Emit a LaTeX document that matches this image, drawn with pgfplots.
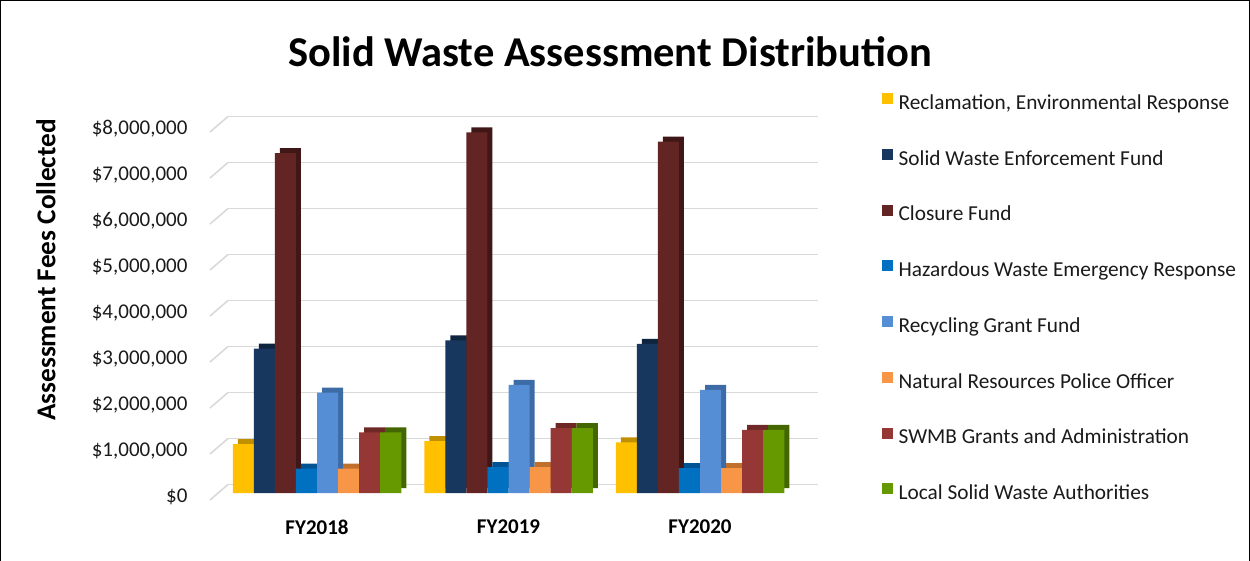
\documentclass[border=0pt]{standalone}
\usepackage{pgfplots}
\pgfplotsset{compat=1.18}
\usepackage{fontspec}
\setmainfont{Carlito}
\definecolor{cYel}{HTML}{FFC000}
\definecolor{cNavy}{HTML}{17375E}
\definecolor{cClos}{HTML}{632523}
\definecolor{cHaz}{HTML}{0070C0}
\definecolor{cRec}{HTML}{558ED5}
\definecolor{cOra}{HTML}{F79646}
\definecolor{cSwmb}{HTML}{953735}
\definecolor{cGrn}{HTML}{669900}
\definecolor{dYel}{HTML}{C09000}
\definecolor{dNavy}{HTML}{0F243E}
\definecolor{dClos}{HTML}{3F1716}
\definecolor{dHaz}{HTML}{005494}
\definecolor{dRec}{HTML}{3C6BA5}
\definecolor{dOra}{HTML}{C0702C}
\definecolor{dSwmb}{HTML}{6E2826}
\definecolor{dGrn}{HTML}{436600}
\definecolor{cGrid}{HTML}{D9D9D9}
\definecolor{cTxt}{HTML}{1A1A1A}
\pgfplotstableread{
x  a       b       c       d      e       f      g       h
0  1060000 3140000 7390000 530000 2180000 530000 1320000 1320000
1  1130000 3320000 7840000 560000 2350000 560000 1410000 1410000
2  1100000 3240000 7640000 540000 2240000 540000 1370000 1370000
}\data
\begin{document}
\begin{tikzpicture}
\useasboundingbox (0,0) rectangle (1250pt,560pt);
\draw[black, line width=1pt] (0.5pt,-2pt) rectangle (1249.5pt,559.5pt);
\node[font=\fontsize{42.5}{45}\selectfont\bfseries, text=black] at (610pt,508pt) {Solid Waste Assessment Distribution};
\node[font=\fontsize{27.3}{29}\selectfont\bfseries, text=black, rotate=90] at (46pt,290pt) {Assessment Fees Collected};
\begin{axis}[
  at={(228pt,63pt)}, anchor=south west,
  scale only axis, width=590pt, height=368pt,
  xmin=-0.4648, xmax=2.616, ymin=0, ymax=8000000,
  clip=false,
  ybar, bar width=0.11,
  axis line style={draw=none},
  major tick length=0pt,
  scaled y ticks=false,
  ymajorgrids, grid style={cGrid, line width=1.6pt, yshift=12.5pt},
  ytick={0,1000000,2000000,3000000,4000000,5000000,6000000,7000000,8000000},
  yticklabels={\$0,{\$1,000,000},{\$2,000,000},{\$3,000,000},{\$4,000,000},{\$5,000,000},{\$6,000,000},{\$7,000,000},{\$8,000,000}},
  yticklabel style={font=\fontsize{21}{24}\selectfont, text=cTxt, xshift=-37pt},
  xtick={0,1,2},
  xticklabels={FY2018,FY2019,FY2020},
  xticklabel style={font=\fontsize{21}{24}\selectfont\bfseries, text=black, yshift=-19pt},
  legend style={at={(1.1075,1.099)}, anchor=north west, draw=none, fill=none,
    font=\fontsize{21.3}{24}\selectfont, text=cTxt, row sep=35.4pt, inner sep=0pt},
  legend cell align=left,
  legend image code/.code={\fill[#1,draw=none] (0pt,-5.5pt) rectangle (11pt,5.5pt); \path (15pt,0pt);},
  shadow/.style={draw=none, forget plot, xshift=5pt, yshift=9pt},
  front/.style={draw=none, yshift=4pt},
]
% wall-edge stubs of the gridlines
\pgfplotsinvokeforeach{0,1,2,3,4,5,6,7,8}{
  \draw[cGrid, line width=1.6pt] ([xshift=-18pt,yshift=-3pt]axis cs:-0.4648,#1e6) -- ([yshift=12.5pt]axis cs:-0.4648,#1e6);
}
% depth (side and top faces)
\addplot[shadow, fill=dYel,  bar shift=-0.385] table[x=x,y=a] {\data};
\addplot[shadow, fill=dNavy, bar shift=-0.275] table[x=x,y=b] {\data};
\addplot[shadow, fill=dClos, bar shift=-0.165] table[x=x,y=c] {\data};
\addplot[shadow, fill=dHaz,  bar shift=-0.055] table[x=x,y=d] {\data};
\addplot[shadow, fill=dRec,  bar shift=0.055]  table[x=x,y=e] {\data};
\addplot[shadow, fill=dOra,  bar shift=0.165]  table[x=x,y=f] {\data};
\addplot[shadow, fill=dSwmb, bar shift=0.275]  table[x=x,y=g] {\data};
\addplot[shadow, fill=dGrn,  bar shift=0.385]  table[x=x,y=h] {\data};
% front faces
\addplot[front, fill=cYel,  bar shift=-0.385] table[x=x,y=a] {\data};
\addplot[front, fill=cNavy, bar shift=-0.275] table[x=x,y=b] {\data};
\addplot[front, fill=cClos, bar shift=-0.165] table[x=x,y=c] {\data};
\addplot[front, fill=cHaz,  bar shift=-0.055] table[x=x,y=d] {\data};
\addplot[front, fill=cRec,  bar shift=0.055]  table[x=x,y=e] {\data};
\addplot[front, fill=cOra,  bar shift=0.165]  table[x=x,y=f] {\data};
\addplot[front, fill=cSwmb, bar shift=0.275]  table[x=x,y=g] {\data};
\addplot[front, fill=cGrn,  bar shift=0.385]  table[x=x,y=h] {\data};
\legend{Reclamation{,} Environmental Response, Solid Waste Enforcement Fund, Closure Fund, Hazardous Waste Emergency Response, Recycling Grant Fund, Natural Resources Police Officer, SWMB Grants and Administration, Local Solid Waste Authorities}
\end{axis}
\end{tikzpicture}
\end{document}
